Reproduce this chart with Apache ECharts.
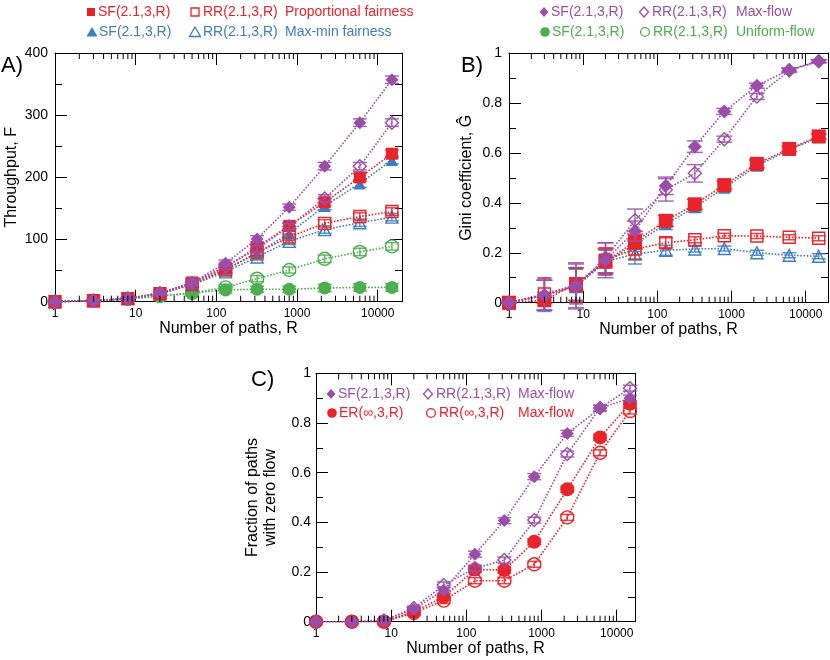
<!DOCTYPE html>
<html>
<head>
<meta charset="utf-8">
<script src="https://cdn.jsdelivr.net/npm/echarts@6/dist/echarts.min.js"></script>
<style>
  html, body { margin: 0; padding: 0; background: #fff; }
  #chart { width: 830px; height: 660px; }
</style>
</head>
<body>
<div id="chart"></div>
<script>
// --- data ---
const R = [1, 3, 8, 20, 50, 130, 320, 800, 2200, 6000, 15000];
const minorTicksX = [2, 3, 4, 5, 6, 7, 8, 9, 20, 30, 40, 50, 60, 70, 80, 90,
  200, 300, 400, 500, 600, 700, 800, 900, 2000, 3000, 4000, 5000, 6000, 7000, 8000, 9000];

// A) throughput F
const thrSFmaxFlow   = [0, 1.5, 5, 14, 31, 62, 101, 152, 218, 288, 357];
const thrRRmaxFlow   = [0, 1.5, 5, 14, 30, 57, 85, 121, 166, 218, 288];
const thrSFprop      = [0, 1.5, 5, 13, 31, 55, 88, 122, 160, 200, 238];
const thrRRprop      = [0, 1.5, 5, 13, 28, 51, 79, 104, 126, 137, 145];
const thrSFmaxMin    = [0, 1.5, 5, 14, 28, 52, 78, 110, 154, 190, 228];
const thrRRmaxMin    = [0, 1.5, 5, 13, 27, 48, 72, 97, 116, 127, 136];
const thrSFuniform   = [0, 1.5, 4.5, 9, 14, 19, 20, 20, 22, 23, 23];
const thrRRuniform   = [0, 1.5, 4.5, 9, 14, 23, 37, 51, 69, 80, 89];
const thrErr         = [0, 1, 2, 3, 4, 5, 5, 5, 6, 6, 6];

// B) Gini coefficient
const giniSFmaxFlow  = [0, 0.03, 0.07, 0.17, 0.287, 0.468, 0.625, 0.766, 0.869, 0.933, 0.967];
const giniRRmaxFlow  = [0, 0.03, 0.065, 0.18, 0.33, 0.452, 0.518, 0.655, 0.826, 0.93, 0.967];
const giniSFprop     = [0, 0.01, 0.075, 0.165, 0.245, 0.328, 0.394, 0.471, 0.556, 0.616, 0.666];
const giniRRprop     = [0, 0.035, 0.07, 0.17, 0.215, 0.24, 0.252, 0.268, 0.267, 0.262, 0.258];
const giniSFmaxMin   = [0, 0.03, 0.07, 0.16, 0.235, 0.315, 0.382, 0.46, 0.548, 0.612, 0.663];
const giniRRmaxMin   = [0, 0.03, 0.065, 0.165, 0.195, 0.21, 0.215, 0.217, 0.2, 0.19, 0.186];
const giniErrMaxFlowSF = [0, 0.06, 0.09, 0.07, 0.04, 0.035, 0.023, 0.012, 0.01, 0.008, 0.006];
const giniErrMaxFlowRR = [0, 0.06, 0.09, 0.06, 0.045, 0.045, 0.035, 0.012, 0.012, 0.008, 0.006];
const giniErrSF        = [0, 0.012, 0.065, 0.05, 0.03, 0.022, 0.02, 0.016, 0.016, 0.01, 0.01];
const giniErrRR        = [0, 0.065, 0.07, 0.05, 0.04, 0.02, 0.012, 0.01, 0.01, 0.01, 0.01];

// C) fraction of paths with zero flow
const zeroSFmaxFlow  = [0, 0, 0.005, 0.05, 0.127, 0.272, 0.407, 0.584, 0.758, 0.859, 0.9];
const zeroRRmaxFlow  = [0, 0, 0.005, 0.055, 0.148, 0.215, 0.248, 0.409, 0.675, 0.86, 0.94];
const zeroERinf      = [0, 0, 0, 0.04, 0.1, 0.21, 0.208, 0.322, 0.533, 0.742, 0.877];
const zeroRRinf      = [0, 0, 0, 0.035, 0.085, 0.165, 0.165, 0.231, 0.42, 0.68, 0.848];
const zeroErr        = [0, 0, 0.004, 0.008, 0.012, 0.012, 0.012, 0.012, 0.012, 0.012, 0.012];

const RED = "#e8232a", BLUE = "#3c7dbf", PURPLE = "#9b4ea8", GREEN = "#4cae4c";
const FONT = "Liberation Sans, Arial, sans-serif";

const chart = echarts.init(document.getElementById("chart"));

// grids: A, B, C
const grids = [
    { left: 55, right: 428, top: 53, height: 248.7 },
    { left: 509, right: 2, top: 53, height: 249.7 },
    { left: 316, right: 195, top: 373.3, height: 248.4 }
];
const xMax = [20000, 20000, 17500];
const yMax = [400, 1, 1];
const yInterval = [100, 0.2, 0.2];
const yNames = ["Throughput, F", "Gini coefficient, \u011C", "Fraction of paths\nwith zero flow"];
const yNameGap = [33, 33, 36];

const xAxes = [], yAxes = [];
grids.forEach((g, i) => {
    ["bottom", "top"].forEach(pos => {
        xAxes.push({
            type: "log", logBase: 10, gridIndex: i, position: pos,
            min: 1, max: xMax[i],
            axisLine: { show: true, onZero: false, lineStyle: { color: "#000", width: 1 } },
            axisTick: { inside: true, length: 12, lineStyle: { color: "#000" } },
            axisLabel: {
                show: pos === "bottom", color: "#000", fontSize: 12, fontFamily: FONT, margin: 6,
                showMaxLabel: false, formatter: v => String(Math.round(v))
            },
            splitLine: { show: false },
            name: pos === "bottom" ? "Number of paths, R" : "",
            nameLocation: "middle", nameGap: 19,
            nameTextStyle: { color: "#000", fontSize: 16, fontFamily: FONT }
        });
    });
    ["left", "right"].forEach(pos => {
        yAxes.push({
            type: "value", gridIndex: i, position: pos,
            min: 0, max: yMax[i], interval: yInterval[i],
            axisLine: { show: true, onZero: false, lineStyle: { color: "#000", width: 1 } },
            axisTick: { inside: true, length: 12, lineStyle: { color: "#000" } },
            minorTick: { show: true, splitNumber: 2, length: 7, lineStyle: { color: "#000" } },
            axisLabel: { show: pos === "left", color: "#000", fontSize: 14, fontFamily: FONT, margin: i === 2 ? 5 : 7 },
            splitLine: { show: false },
            name: pos === "left" ? yNames[i] : "",
            nameLocation: "middle", nameGap: yNameGap[i],
            nameTextStyle: { color: "#000", fontSize: 16, fontFamily: FONT, lineHeight: 18 }
        });
    });
});

const series = [];

function addCurve(panel, vals, err, color, symbol, filled, size, capW, z) {
    const xi = panel * 2, yi = panel * 2;
    series.push({
        type: "custom", xAxisIndex: xi, yAxisIndex: yi, z: z,
        itemStyle: { color: color },
        data: R.map((r, k) => [r, vals[k] - err[k], vals[k] + err[k]]),
        renderItem: (params, api) => {
            const lo = api.coord([api.value(0), api.value(1)]);
            const hi = api.coord([api.value(0), api.value(2)]);
            const st = { stroke: color, lineWidth: 1.5, opacity: 0.85 };
            return {
                type: "group", children: [
                    { type: "line", shape: { x1: lo[0], y1: lo[1], x2: hi[0], y2: hi[1] }, style: st },
                    { type: "line", shape: { x1: lo[0] - capW, y1: lo[1], x2: lo[0] + capW, y2: lo[1] }, style: st },
                    { type: "line", shape: { x1: hi[0] - capW, y1: hi[1], x2: hi[0] + capW, y2: hi[1] }, style: st }
                ]
            };
        },
        encode: { x: 0, y: [1, 2] },
        silent: true, animation: false
    });
    series.push({
        type: "line", xAxisIndex: xi, yAxisIndex: yi, z: z + 1,
        data: R.map((r, k) => [r, vals[k]]),
        symbol: symbol, symbolSize: size, showAllSymbol: true,
        lineStyle: { type: "dotted", width: 1.6, color: color },
        itemStyle: {
            color: filled ? color : "rgba(255,255,255,0)",
            borderColor: color, borderWidth: filled ? 0 : 1.4
        },
        animation: false
    });
}

// panel A
addCurve(0, thrRRuniform, thrErr, GREEN, "circle", false, 13, 7, 2);
addCurve(0, thrSFuniform, thrErr, GREEN, "circle", true, 13, 7, 2);
addCurve(0, thrRRmaxMin, thrErr, BLUE, "triangle", false, 12, 7, 4);
addCurve(0, thrSFmaxMin, thrErr, BLUE, "triangle", true, 12, 7, 4);
addCurve(0, thrRRprop, thrErr, RED, "rect", false, 12, 7, 6);
addCurve(0, thrSFprop, thrErr, RED, "rect", true, 12, 7, 6);
addCurve(0, thrRRmaxFlow, thrErr, PURPLE, "diamond", false, 13, 7, 8);
addCurve(0, thrSFmaxFlow, thrErr, PURPLE, "diamond", true, 13, 7, 8);

// panel B
addCurve(1, giniRRmaxMin, giniErrRR, BLUE, "triangle", false, 12, 7, 2);
addCurve(1, giniSFmaxMin, giniErrSF, BLUE, "triangle", true, 12, 7, 2);
addCurve(1, giniRRprop, giniErrRR, RED, "rect", false, 12, 7, 4);
addCurve(1, giniSFprop, giniErrSF, RED, "rect", true, 14, 8, 4);
addCurve(1, giniRRmaxFlow, giniErrMaxFlowRR, PURPLE, "diamond", false, 13, 8, 6);
addCurve(1, giniSFmaxFlow, giniErrMaxFlowSF, PURPLE, "diamond", true, 14, 8, 6);

// panel C
addCurve(2, zeroRRinf, zeroErr, RED, "circle", false, 13, 7, 2);
addCurve(2, zeroERinf, zeroErr, RED, "circle", true, 14, 7, 2);
addCurve(2, zeroRRmaxFlow, zeroErr, PURPLE, "diamond", false, 13, 7, 4);
addCurve(2, zeroSFmaxFlow, zeroErr, PURPLE, "diamond", true, 13, 7, 4);

// minor log ticks on top and bottom edges of each panel
grids.forEach((g, i) => {
    series.push({
        type: "custom", xAxisIndex: i * 2, yAxisIndex: i * 2, z: 20,
        data: minorTicksX.filter(v => v <= xMax[i]).map(v => [v, 0]),
        renderItem: (params, api) => {
            const p = api.coord([api.value(0), 0]);
            const cs = params.coordSys;
            const st = { stroke: "#000", lineWidth: 1 };
            return {
                type: "group", children: [
                    { type: "line", shape: { x1: p[0], y1: cs.y + cs.height, x2: p[0], y2: cs.y + cs.height - 6 }, style: st },
                    { type: "line", shape: { x1: p[0], y1: cs.y, x2: p[0], y2: cs.y + 6 }, style: st }
                ]
            };
        },
        encode: { x: 0, y: 1 },
        silent: true, animation: false
    });
});

// legend rows and panel letters
const graphics = [];
function txt(x, y, text, color, size) {
    graphics.push({
        type: "text", x: x, y: y,
        style: { text: text, fill: color, font: (size || 14) + "px " + FONT, verticalAlign: "middle" }
    });
}
// small legend marker drawn as a shape, centred at (cx, cy)
function sym(kind, cx, cy, color, filled) {
    const style = filled ? { fill: color } : { fill: "none", stroke: color, lineWidth: 1.3 };
    let el;
    if (kind === "rect") el = { type: "rect", shape: { x: cx - 4, y: cy - 4, width: 8, height: 8 } };
    else if (kind === "circle") el = { type: "circle", shape: { cx: cx, cy: cy, r: filled ? 4.8 : 4.4 } };
    else if (kind === "triangle") el = { type: "polygon", shape: { points: [[cx, cy - 5], [cx + 5.5, cy + 4.5], [cx - 5.5, cy + 4.5]] } };
    else el = { type: "polygon", shape: { points: [[cx, cy - 5], [cx + 4.5, cy], [cx, cy + 5], [cx - 4.5, cy]] } };
    el.style = style;
    graphics.push(el);
}
function legendRow(y, kind, x0, lab1, x1, lab2, x2, title, color) {
    sym(kind, x0, y, color, true);
    txt(x0 + 7, y, lab1, color);
    sym(kind, x1, y, color, false);
    txt(x1 + 8, y, lab2, color);
    txt(x2, y, title, color);
}
legendRow(12, "rect", 91, "SF(2.1,3,R)", 195, "RR(2.1,3,R)", 285, "Proportional fairness", RED);
legendRow(32, "triangle", 92, "SF(2.1,3,R)", 195, "RR(2.1,3,R)", 285, "Max-min fairness", BLUE);
legendRow(12, "diamond", 544, "SF(2.1,3,R)", 644, "RR(2.1,3,R)", 736, "Max-flow", PURPLE);
legendRow(32, "circle", 545, "SF(2.1,3,R)", 645, "RR(2.1,3,R)", 736, "Uniform-flow", GREEN);
legendRow(394, "diamond", 331, "SF(2.1,3,R)", 428, "RR(2.1,3,R)", 518, "Max-flow", PURPLE);
legendRow(413, "circle", 332, "ER(\u221E,3,R)", 431, "RR(\u221E,3,R)", 518, "Max-flow", RED);

txt(1, 66, "A)", "#000", 22);
txt(461, 66, "B)", "#000", 22);
txt(251, 380, "C)", "#000", 22);

chart.setOption({
    backgroundColor: "#fff",
    animation: false,
    grid: grids,
    xAxis: xAxes,
    yAxis: yAxes,
    series: series,
    graphic: graphics
});

window.addEventListener("resize", () => chart.resize());
</script>
</body>
</html>
